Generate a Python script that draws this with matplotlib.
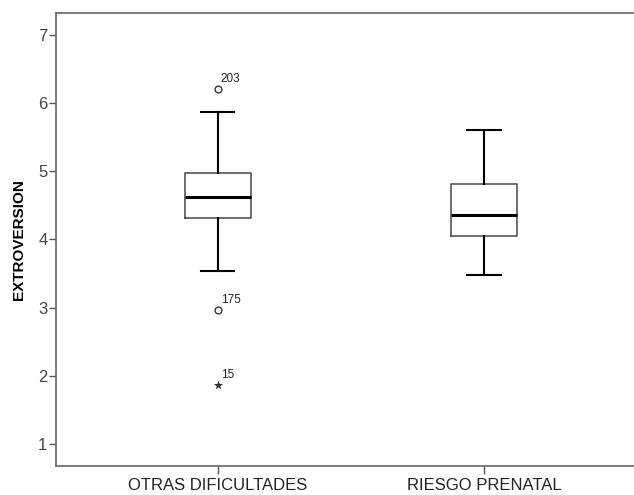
import matplotlib
matplotlib.use("Agg")
import matplotlib.pyplot as plt

plt.rcParams['font.family'] = ['Liberation Sans', 'DejaVu Sans']

# group summaries for EXTROVERSION
groups = ["OTRAS DIFICULTADES", "RIESGO PRENATAL"]
whisker_low = [3.53, 3.48]
q1 = [4.32, 4.05]
median = [4.62, 4.36]
q3 = [4.97, 4.81]
whisker_high = [5.86, 5.61]

# outliers (circle) and extremes (star), with case numbers
outlier_group = [1, 1]
outlier_value = [6.21, 2.96]
outlier_case = ["203", "175"]
extreme_group = [1]
extreme_value = [1.87]
extreme_case = ["15"]

stats = []
for i in range(len(groups)):
    stats.append({
        "whislo": whisker_low[i], "q1": q1[i], "med": median[i],
        "q3": q3[i], "whishi": whisker_high[i], "fliers": [],
    })

fig = plt.figure(figsize=(6.34, 4.95), dpi=100)
ax = fig.add_axes([0.0879, 0.0586, 0.9121, 0.9157])

ax.bxp(stats, positions=[1, 2], widths=0.25, showfliers=False,
       boxprops=dict(color="#555555", linewidth=1.2),
       medianprops=dict(color="black", linewidth=2.2),
       whiskerprops=dict(color="black", linewidth=1.5),
       capprops=dict(color="black", linewidth=1.5))

ax.scatter(outlier_group, outlier_value, s=24, facecolors="white",
           edgecolors="#333333", linewidths=1.0, zorder=3)
ax.scatter(extreme_group, extreme_value, s=50, marker="*",
           color="#333333", linewidths=0, zorder=3)
for g, v, c in zip(outlier_group + extreme_group,
                   outlier_value + extreme_value,
                   outlier_case + extreme_case):
    ax.annotate(c, (g, v), xytext=(2, 5), textcoords="offset points",
                fontsize=8.5, color="#222222")

ax.set_xlim(0.391, 2.564)
ax.set_ylim(0.676, 7.323)
ax.set_yticks([1, 2, 3, 4, 5, 6, 7])
ax.set_xticks([1, 2])
ax.set_xticklabels(groups)

for side in ["top", "left", "bottom"]:
    ax.spines[side].set_color("#666666")
    ax.spines[side].set_linewidth(1.2)
ax.spines["right"].set_visible(False)

ax.tick_params(axis="y", direction="out", length=5, width=1,
               color="#555555", labelsize=12, labelcolor="#444444", pad=1)
ax.tick_params(axis="x", direction="out", length=6, width=1,
               color="#555555", labelsize=12, labelcolor="#222222", pad=3)

ax.set_ylabel("EXTROVERSION", fontsize=11, fontweight="bold", labelpad=9)

fig.savefig("out.png", dpi=100)
